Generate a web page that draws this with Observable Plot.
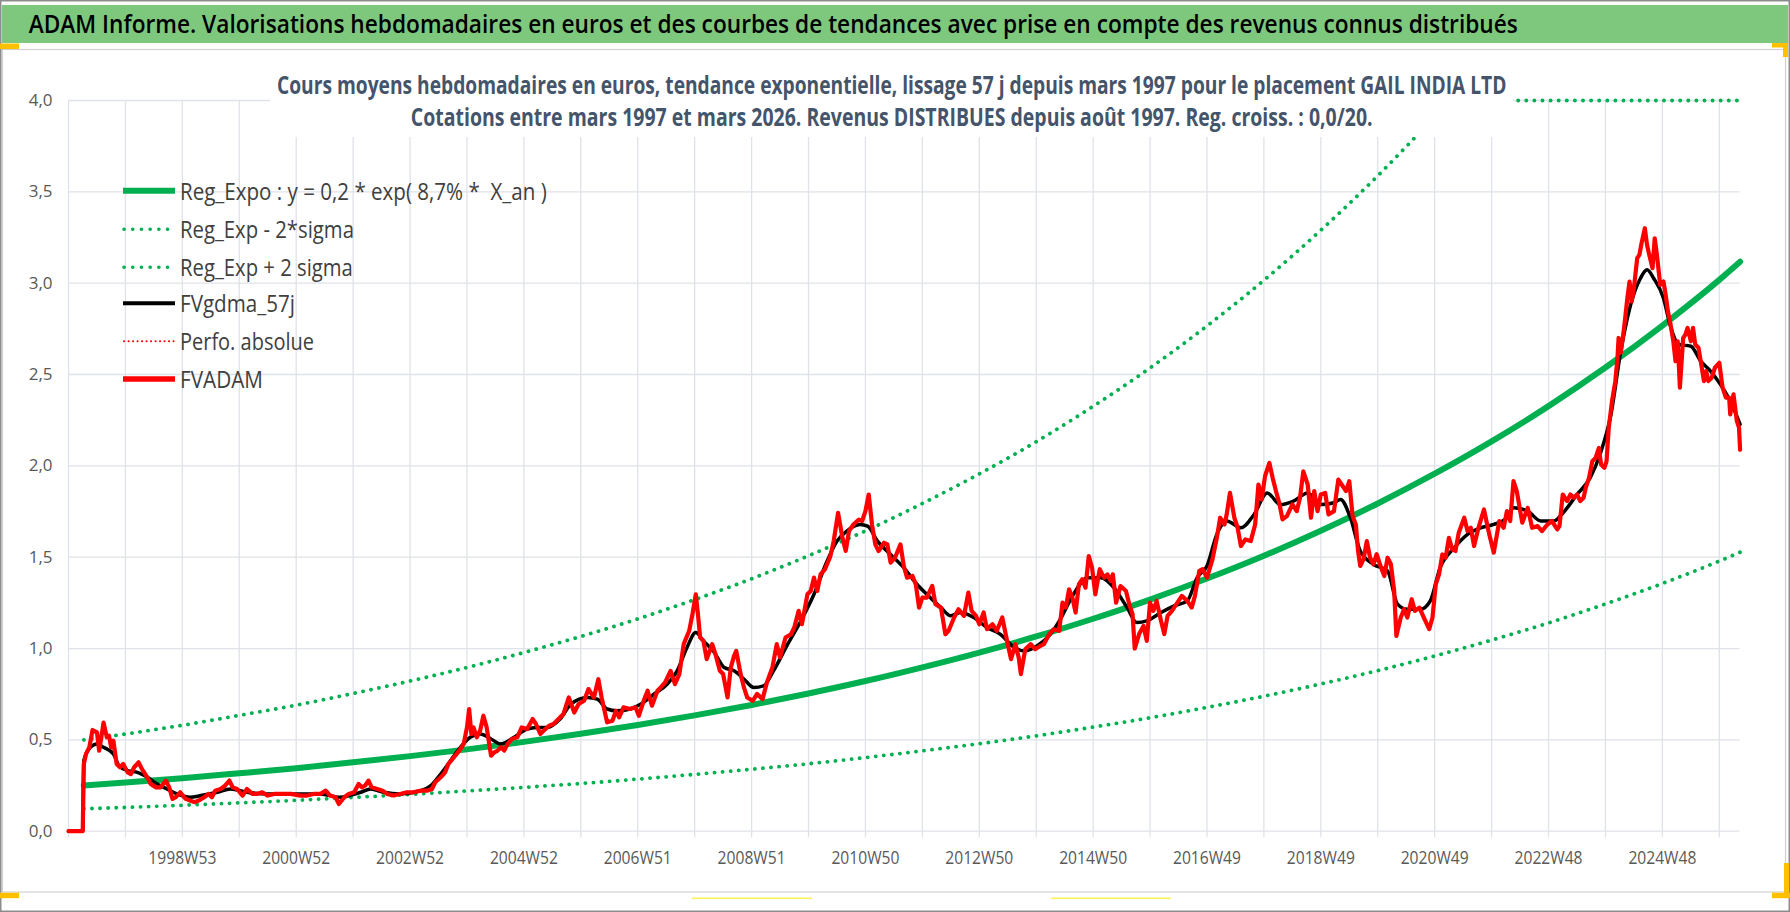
<!DOCTYPE html>
<html><head><meta charset="utf-8">
<script src="https://cdn.jsdelivr.net/npm/d3@7"></script>
<script src="https://cdn.jsdelivr.net/npm/@observablehq/plot@0.6"></script>
<style>
html,body{margin:0;padding:0;background:#fff;}
#wrap{position:relative;width:1790px;height:912px;overflow:hidden;font-family:"Open Sans",sans-serif;}
#wrap > svg{position:absolute;left:0;top:0;}
</style></head><body><div id="wrap"></div>
<script>
// ---- data (week index since 1997W01, value in euros) ----
const fvadamPoints = [[0,0],[13,0],[14,0.368],[16,0.423],[19,0.459],[22,0.554],[26,0.541],[28,0.441],[30,0.514],[32,0.595],[35,0.514],[37,0.523],[39,0.459],[41,0.495],[44,0.368],[47,0.350],[50,0.368],[54,0.322],[57,0.313],[60,0.350],[64,0.377],[67,0.341],[72,0.295],[75,0.259],[80,0.240],[84,0.240],[89,0.277],[92,0.240],[95,0.177],[98,0.186],[102,0.213],[107,0.177],[111,0.168],[115,0.159],[119,0.168],[124,0.186],[128,0.204],[131,0.186],[134,0.222],[139,0.231],[143,0.249],[147,0.277],[150,0.240],[154,0.231],[159,0.195],[163,0.231],[168,0.204],[172,0.204],[177,0.213],[182,0.195],[188,0.204],[194,0.204],[203,0.204],[212,0.195],[218,0.195],[224,0.204],[230,0.204],[235,0.222],[239,0.195],[244,0.186],[247,0.149],[252,0.186],[256,0.204],[261,0.213],[265,0.259],[268,0.240],[271,0.250],[274,0.277],[277,0.240],[282,0.231],[287,0.222],[291,0.204],[297,0.195],[303,0.204],[309,0.213],[315,0.213],[322,0.222],[328,0.222],[332,0.231],[335,0.268],[340,0.295],[344,0.322],[347,0.368],[352,0.404],[357,0.441],[361,0.477],[364,0.568],[366,0.668],[368,0.532],[370,0.568],[373,0.514],[376,0.550],[379,0.632],[382,0.568],[386,0.413],[389,0.432],[392,0.441],[395,0.459],[398,0.441],[401,0.477],[405,0.505],[410,0.514],[414,0.568],[419,0.559],[424,0.614],[427,0.587],[431,0.532],[434,0.550],[439,0.577],[443,0.587],[449,0.623],[452,0.640],[457,0.732],[462,0.650],[466,0.696],[471,0.714],[475,0.778],[480,0.732],[484,0.832],[487,0.732],[492,0.596],[497,0.605],[500,0.659],[503,0.623],[507,0.678],[513,0.669],[518,0.678],[521,0.632],[526,0.723],[529,0.769],[533,0.687],[538,0.769],[541,0.787],[545,0.814],[550,0.878],[554,0.805],[558,0.860],[562,1.024],[567,1.097],[570,1.188],[573,1.297],[575,1.188],[577,1.060],[580,1.042],[583,0.942],[588,1.024],[591,0.969],[595,0.878],[598,0.860],[602,0.732],[605,0.896],[608,0.960],[610,0.987],[614,0.860],[617,0.787],[620,0.732],[625,0.714],[629,0.751],[634,0.723],[638,0.814],[643,0.896],[647,1.024],[650,0.951],[655,1.060],[660,1.078],[663,1.115],[667,1.206],[670,1.133],[675,1.297],[678,1.315],[681,1.388],[684,1.315],[687,1.406],[691,1.433],[696,1.506],[699,1.588],[703,1.743],[707,1.606],[710,1.534],[713,1.643],[717,1.679],[722,1.706],[725,1.698],[728,1.752],[731,1.843],[734,1.679],[737,1.570],[740,1.534],[745,1.579],[748,1.570],[751,1.470],[755,1.497],[760,1.570],[763,1.452],[766,1.388],[771,1.397],[774,1.352],[777,1.224],[780,1.279],[784,1.279],[789,1.343],[792,1.242],[797,1.224],[801,1.078],[804,1.097],[809,1.170],[813,1.215],[818,1.179],[822,1.306],[825,1.206],[829,1.179],[832,1.133],[836,1.197],[839,1.106],[844,1.133],[848,1.097],[853,1.170],[858,1.024],[861,0.942],[865,1.024],[868,0.951],[870,0.860],[874,0.996],[879,1.024],[883,0.996],[888,1.015],[891,1.024],[896,1.079],[900,1.106],[905,1.097],[908,1.251],[911,1.224],[914,1.324],[917,1.279],[920,1.197],[923,1.352],[926,1.379],[929,1.333],[932,1.506],[935,1.443],[938,1.297],[942,1.434],[946,1.388],[949,1.406],[952,1.370],[954,1.406],[957,1.251],[961,1.342],[966,1.315],[969,1.242],[972,1.188],[974,1.000],[978,1.079],[982,1.124],[985,1.042],[988,1.251],[991,1.206],[994,1.261],[998,1.152],[1001,1.079],[1004,1.179],[1008,1.206],[1013,1.251],[1017,1.288],[1022,1.261],[1026,1.224],[1029,1.288],[1033,1.425],[1036,1.434],[1040,1.388],[1045,1.488],[1049,1.606],[1052,1.716],[1056,1.679],[1058,1.734],[1061,1.852],[1065,1.716],[1068,1.661],[1071,1.561],[1075,1.597],[1080,1.588],[1084,1.679],[1087,1.898],[1090,1.816],[1093,1.943],[1097,2.016],[1100,1.934],[1103,1.862],[1106,1.798],[1109,1.707],[1113,1.725],[1118,1.789],[1122,1.752],[1125,1.825],[1128,1.970],[1132,1.898],[1135,1.716],[1138,1.862],[1141,1.752],[1144,1.843],[1148,1.852],[1151,1.734],[1156,1.752],[1160,1.925],[1163,1.898],[1167,1.862],[1170,1.916],[1173,1.725],[1176,1.679],[1178,1.534],[1180,1.452],[1183,1.488],[1186,1.588],[1189,1.497],[1192,1.461],[1195,1.516],[1199,1.443],[1202,1.397],[1205,1.497],[1208,1.461],[1211,1.315],[1213,1.069],[1217,1.170],[1220,1.215],[1223,1.170],[1227,1.270],[1230,1.206],[1234,1.224],[1238,1.170],[1243,1.106],[1246,1.170],[1249,1.352],[1252,1.406],[1255,1.515],[1258,1.497],[1261,1.606],[1264,1.543],[1267,1.534],[1270,1.634],[1275,1.716],[1278,1.643],[1281,1.661],[1284,1.561],[1288,1.661],[1293,1.761],[1298,1.621],[1302,1.525],[1307,1.698],[1311,1.661],[1314,1.752],[1317,1.698],[1320,1.916],[1323,1.862],[1328,1.689],[1333,1.770],[1337,1.661],[1342,1.670],[1346,1.643],[1351,1.679],[1355,1.698],[1360,1.652],[1362,1.670],[1365,1.843],[1369,1.807],[1372,1.843],[1375,1.825],[1378,1.843],[1381,1.807],[1384,1.825],[1386,1.880],[1389,1.934],[1392,2.025],[1395,2.043],[1398,2.098],[1400,2.007],[1403,1.989],[1405,2.025],[1407,2.208],[1410,2.354],[1413,2.463],[1415,2.591],[1416,2.700],[1418,2.619],[1421,2.754],[1424,2.918],[1426,3.009],[1428,2.900],[1430,2.973],[1433,3.137],[1435,3.155],[1437,3.219],[1440,3.301],[1442,3.209],[1444,3.155],[1447,3.082],[1449,3.246],[1451,3.155],[1454,2.991],[1457,3.009],[1459,2.937],[1461,2.846],[1463,2.791],[1466,2.682],[1468,2.573],[1470,2.682],[1472,2.428],[1475,2.700],[1477,2.718],[1479,2.755],[1482,2.682],[1484,2.755],[1486,2.664],[1489,2.646],[1492,2.537],[1494,2.464],[1496,2.519],[1498,2.464],[1501,2.482],[1504,2.537],[1508,2.564],[1511,2.428],[1514,2.373],[1517,2.373],[1518,2.282],[1521,2.391],[1524,2.246],[1526,2.209],[1527,2.088]];

const fvgdmaPoints = [[0,0],[13,0],[14,0.386],[20,0.459],[26,0.477],[32,0.459],[41,0.423],[46,0.359],[54,0.332],[63,0.322],[72,0.295],[81,0.259],[90,0.231],[99,0.204],[111,0.186],[121,0.195],[136,0.213],[148,0.231],[163,0.213],[182,0.204],[206,0.204],[230,0.204],[248,0.186],[267,0.213],[276,0.231],[288,0.213],[303,0.204],[322,0.222],[331,0.250],[340,0.313],[349,0.386],[358,0.459],[367,0.514],[376,0.532],[386,0.505],[395,0.477],[407,0.514],[419,0.559],[428,0.568],[437,0.568],[449,0.614],[459,0.696],[474,0.732],[483,0.723],[492,0.669],[501,0.659],[513,0.669],[523,0.696],[535,0.751],[547,0.805],[556,0.878],[565,1.006],[573,1.088],[580,1.042],[590,0.978],[599,0.896],[608,0.878],[617,0.833],[626,0.787],[635,0.796],[644,0.878],[657,1.024],[669,1.151],[681,1.297],[693,1.479],[702,1.588],[711,1.643],[723,1.679],[730,1.670],[739,1.588],[751,1.515],[763,1.443],[775,1.352],[784,1.297],[797,1.224],[806,1.179],[815,1.197],[827,1.170],[839,1.115],[851,1.079],[864,1.006],[873,0.987],[885,1.015],[897,1.079],[906,1.160],[918,1.297],[931,1.388],[943,1.388],[955,1.333],[967,1.224],[976,1.142],[985,1.151],[998,1.197],[1010,1.233],[1022,1.261],[1031,1.388],[1040,1.452],[1049,1.625],[1058,1.698],[1071,1.661],[1083,1.734],[1095,1.852],[1107,1.788],[1119,1.807],[1132,1.852],[1144,1.788],[1156,1.798],[1162,1.816],[1171,1.716],[1180,1.534],[1192,1.461],[1205,1.424],[1214,1.243],[1223,1.215],[1235,1.215],[1244,1.261],[1253,1.443],[1266,1.552],[1278,1.625],[1290,1.661],[1302,1.679],[1314,1.716],[1320,1.770],[1333,1.752],[1345,1.698],[1357,1.698],[1364,1.734],[1378,1.843],[1390,1.934],[1399,2.062],[1409,2.280],[1418,2.627],[1427,2.882],[1436,3.027],[1442,3.073],[1448,3.027],[1457,2.918],[1463,2.773],[1471,2.664],[1482,2.655],[1491,2.573],[1500,2.519],[1509,2.446],[1518,2.355],[1527,2.227]];

const bandWeeks   = [14,52,104,156,208,260,312,364,416,468,520,572,624,676,728,780,832,884,936,988,1040,1092,1144,1196,1248,1300,1352,1404,1456,1508,1527];
const regExpo     = [0.250,0.266,0.290,0.317,0.345,0.377,0.411,0.448,0.489,0.533,0.581,0.634,0.691,0.754,0.822,0.897,0.978,1.066,1.163,1.268,1.383,1.508,1.645,1.794,1.957,2.134,2.327,2.538,2.768,3.018,3.117];
const regMinus2s  = [0.123,0.130,0.142,0.155,0.169,0.185,0.201,0.220,0.240,0.261,0.285,0.311,0.339,0.369,0.403,0.440,0.479,0.522,0.570,0.621,0.678,0.739,0.806,0.879,0.959,1.046,1.140,1.244,1.356,1.479,1.527];
const upperWeeks  = [14,52,104,156,208,260,312,364,416,468,520,572,624,676,728,780,832,884,936,988,1040,1092,1144,1196,1248,1261,1300,1352,1404,1456,1508,1527];
const regPlus2s   = [0.500,0.532,0.580,0.634,0.690,0.754,0.822,0.896,0.978,1.066,1.162,1.268,1.382,1.508,1.644,1.794,1.956,2.132,2.326,2.536,2.766,3.016,3.290,3.588,3.914,4.000,4.000,4.000,4.000,4.000,4.000,4.000];

const yTicks     = [0,0.5,1,1.5,2,2.5,3,3.5,4];
const gridWeeks  = [0,52,104,156,208,260,312,364,416,468,520,572,624,676,728,780,832,884,936,988,1040,1092,1144,1196,1248,1300,1352,1404,1456,1508];
const labelWeeks = [104,208,312,416,520,624,728,832,936,1040,1144,1248,1352,1456];
const tickLabels = ["1998W53","2000W52","2002W52","2004W52","2006W51","2008W51","2010W50","2012W50","2014W50","2016W49","2018W49","2020W49","2022W48","2024W48"];

const legendLabels = ["Reg_Expo : y = 0,2 * exp( 8,7% *  X_an )","Reg_Exp - 2*sigma","Reg_Exp + 2 sigma","FVgdma_57j","Perfo. absolue","FVADAM"];
const titleText = "ADAM Informe. Valorisations hebdomadaires en euros et des courbes de tendances avec prise en compte des revenus connus distribués";
const subtitleLines = ["Cours moyens hebdomadaires en euros, tendance exponentielle, lissage 57 j depuis mars 1997 pour le placement GAIL INDIA LTD",
                       "Cotations entre mars 1997 et mars 2026. Revenus DISTRIBUES depuis août 1997. Reg. croiss. : 0,0/20."];

// ---- tables ----
const fvadam = fvadamPoints.map(([w, v]) => ({w, v}));
const fvgdma = fvgdmaPoints.map(([w, v]) => ({w, v}));
const trend = bandWeeks.map((w, i) => ({w, v: regExpo[i]}));
const lower = bandWeeks.map((w, i) => ({w, v: regMinus2s[i]}));
const upper = upperWeeks.map((w, i) => ({w, v: regPlus2s[i]}));
const labelMap = new Map(labelWeeks.map((w, i) => [w, tickLabels[i]]));

const GREEN = "#00b050", GRID = "#dfe2e8", AXIS = "#595959";
const DOTS = {stroke: GREEN, strokeWidth: 3.8, strokeDasharray: "0.1 8", strokeLinecap: "round"};

const chart = Plot.plot({
  width: 1790, height: 912,
  marginLeft: 68, marginRight: 50.4, marginTop: 100, marginBottom: 81.3,
  x: {domain: [0, 1527], axis: null, label: null},
  y: {domain: [0, 4], axis: null, label: null},
  style: {fontFamily: '"Open Sans", sans-serif', background: "white", overflow: "visible"},
  marks: [
    Plot.gridY(yTicks, {stroke: GRID, strokeOpacity: 1, strokeWidth: 1.3}),
    Plot.ruleX(gridWeeks, {y1: 0, y2: 4, stroke: GRID, strokeOpacity: 1, strokeWidth: 1.3}),
    Plot.axisX(gridWeeks, {tickSize: 6.6, tickFormat: () => "", label: null, color: GRID, strokeWidth: 1.3}),
    Plot.axisX(labelWeeks, {tickSize: 0, tickPadding: 19, tickFormat: d => labelMap.get(d), label: null, fontSize: 19, color: AXIS}),
    Plot.axisY(yTicks, {tickSize: 0, tickPadding: 16, tickFormat: d => d.toFixed(1).replace(".", ","), label: null, fontSize: 17, color: AXIS}),
    Plot.line(lower, {x: "w", y: "v", curve: "monotone-x", ...DOTS}),
    Plot.line(upper, {x: "w", y: "v", curve: "monotone-x", ...DOTS}),
    Plot.line(trend, {x: "w", y: "v", curve: "monotone-x", stroke: GREEN, strokeWidth: 6}),
    Plot.line(fvgdma, {x: "w", y: "v", curve: "monotone-x", stroke: "#000", strokeWidth: 3.5, strokeLinejoin: "round"}),
    Plot.line(fvadam, {x: "w", y: "v", stroke: "#ff0000", strokeWidth: 4.2, strokeLinejoin: "round"})
  ]
});
const wrap = document.getElementById("wrap");
wrap.appendChild(chart);
chart.querySelectorAll("text").forEach(t => {
  if (tickLabels.includes(t.textContent)) { t.setAttribute("textLength", 68); t.setAttribute("lengthAdjust", "spacingAndGlyphs"); }
});

// ---- overlay: frame, title, subtitle, legend ----
const NS = "http://www.w3.org/2000/svg";
const ov = document.createElementNS(NS, "svg");
ov.setAttribute("width", 1790); ov.setAttribute("height", 912);
ov.setAttribute("font-family", '"Open Sans", sans-serif');
wrap.appendChild(ov);
function el(tag, attrs, text) {
  const e = document.createElementNS(NS, tag);
  for (const k in attrs) e.setAttribute(k, attrs[k]);
  if (text != null) e.textContent = text;
  ov.appendChild(e); return e;
}
// text scaled horizontally to a measured target width
function fitText(text, x, y, width, anchor, attrs) {
  const t = el("text", Object.assign({x: 0, y: 0, "text-anchor": anchor, style: "white-space:pre"}, attrs), text);
  const natural = t.getComputedTextLength();
  const s = natural > 0 ? width / natural : 1;
  t.setAttribute("transform", `translate(${x},${y}) scale(${s},1)`);
  return t;
}
// subtitle box (hides grid under it)
el("rect", {x: 270, y: 52, width: 1243, height: 85, fill: "#fff"});
// outer frame and chart-area border
el("rect", {x: 2.5, y: 49.5, width: 1783, height: 842.5, fill: "none", stroke: "#d0d0d0", "stroke-width": 1.2});
el("rect", {x: 0.75, y: 0.75, width: 1788.5, height: 910.5, fill: "none", stroke: "#8c8c8c", "stroke-width": 1.5});
// title bar
el("rect", {x: 2, y: 5, width: 1786, height: 38, fill: "#7ec87e"});
fitText(titleText, 28.7, 32.5, 1490, "start", {"font-size": 26, "font-weight": 600, fill: "#000"});
// selection handles
const OR = "#ffc000";
el("rect", {x: 0, y: 43.5, width: 19, height: 5.5, fill: OR});
el("rect", {x: 1772, y: 43, width: 16, height: 4.5, fill: OR});
el("rect", {x: 1783, y: 43, width: 5, height: 14, fill: OR});
el("rect", {x: 0, y: 892.7, width: 19, height: 5.5, fill: OR});
el("rect", {x: 1772, y: 892.7, width: 18, height: 5.5, fill: OR});
el("rect", {x: 1784, y: 863, width: 5, height: 35, fill: OR});
el("rect", {x: 692, y: 897.5, width: 120, height: 1.6, fill: "#fff35a"});
el("rect", {x: 1051, y: 897.5, width: 120, height: 1.6, fill: "#fff35a"});
// subtitle
const SUB = "#44546a";
fitText(subtitleLines[0], 891.7, 94.3, 1230, "middle", {"font-size": 25.5, "font-weight": "bold", fill: SUB});
fitText(subtitleLines[1], 891.7, 125.7, 962, "middle", {"font-size": 25.5, "font-weight": "bold", fill: SUB});
// legend
const legY = [190.7, 229.3, 267.3, 303.3, 341.3, 379];
const legW = [367, 174, 173, 115, 134, 83];
const legStyle = [
  {stroke: GREEN, "stroke-width": 6},
  {stroke: GREEN, "stroke-width": 3.6, "stroke-dasharray": "0.1 8.6", "stroke-linecap": "round"},
  {stroke: GREEN, "stroke-width": 3.6, "stroke-dasharray": "0.1 8.6", "stroke-linecap": "round"},
  {stroke: "#000", "stroke-width": 4},
  {stroke: "#ff0000", "stroke-width": 2, "stroke-dasharray": "0.1 4.4", "stroke-linecap": "round"},
  {stroke: "#ff0000", "stroke-width": 5.5}
];
legendLabels.forEach((lab, i) => {
  const dotted = legStyle[i]["stroke-dasharray"];
  el("line", Object.assign({x1: dotted ? 124 : 123, x2: dotted ? 176 : 175, y1: legY[i], y2: legY[i]}, legStyle[i]));
  fitText(lab, 180, legY[i] + 9, legW[i], "start", {"font-size": 23, fill: "#404040"});
});
</script>
</body></html>
